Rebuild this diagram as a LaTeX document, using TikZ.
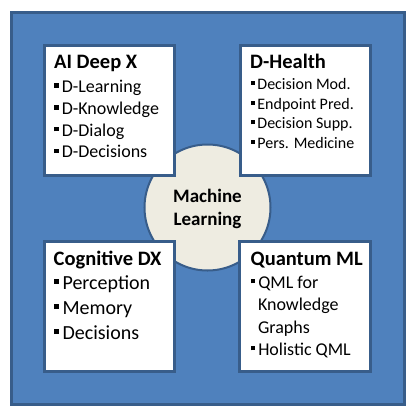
\documentclass[tikz,border=0pt]{standalone}
\usepackage{fontspec}
\setmainfont{Carlito}
\definecolor{bgblue}{HTML}{4F81BD}
\definecolor{edgeblue}{HTML}{385D8A}
\definecolor{mlfill}{HTML}{EEECE1}
\newcommand\blt{\makebox[0.42em][l]{\rule[0.27em]{0.25em}{0.25em}}}
\begin{document}
\begin{tikzpicture}[x=1bp,y=-1bp,
  panel/.style={draw=edgeblue,line width=3bp,fill=white,minimum width=130bp,minimum height=130bp,inner sep=0pt},
  ttl/.style={anchor=base west,inner sep=0pt,font=\fontsize{20.5bp}{24bp}\selectfont\bfseries},
  itm/.style={anchor=base west,inner sep=0pt,font=\fontsize{18bp}{22bp}\selectfont},
  itsmall/.style={anchor=base west,inner sep=0pt,font=\fontsize{16bp}{19bp}\selectfont},
  itbig/.style={anchor=base west,inner sep=0pt,font=\fontsize{20bp}{24bp}\selectfont},
  mltext/.style={anchor=base,inner sep=0pt,font=\fontsize{19bp}{22bp}\selectfont\bfseries}]
\useasboundingbox (0,0) rectangle (414,416);
\fill[white] (0,0) rectangle (414,416);
\draw[edgeblue,fill=bgblue,line width=3bp] (11.5,12.5) rectangle (404.3,404.5);
% central circle
\node[circle,draw=edgeblue,fill=mlfill,line width=2bp,minimum size=126bp,inner sep=0pt] (ml) at (207.5,207.5) {};
\node[mltext] (ml1) at (207.5,202.7) {Machine};
\node[mltext] (ml2) at (207.5,225) {Learning};
% panels
\node[panel] (b1) at (109.5,110.5) {};
\node[panel] (b2) at (305.5,110.5) {};
\node[panel] (b3) at (109.5,306) {};
\node[panel] (b4) at (305,306.5) {};
% AI Deep X
\node[ttl] (t1) at (54,68.5) {AI Deep X};
\node[itm] (a1) at (54,92.8) {\blt D-Learning};
\node[itm] (a2) at (54,114.5) {\blt D-Knowledge};
\node[itm] (a3) at (54,136.2) {\blt D-Dialog};
\node[itm] (a4) at (54,157.9) {\blt D-Decisions};
% D-Health
\node[ttl] (t2) at (250,68.3) {D-Health};
\node[itsmall] (h1) at (250.5,89.3) {\blt Decision Mod.};
\node[itsmall] (h2) at (250.5,109) {\blt Endpoint Pred.};
\node[itsmall] (h3) at (250.5,128.6) {\blt Decision Supp.};
\node[itsmall] (h4) at (250.5,148.2) {\blt Pers. Medicine};
% Cognitive DX
\node[ttl] (t3) at (53.5,265) {Cognitive DX};
\node[itbig] (c1) at (54,289.3) {\blt Perception};
\node[itbig] (c2) at (54,314.5) {\blt Memory};
\node[itbig] (c3) at (54,339.5) {\blt Decisions};
% Quantum ML
\node[ttl] (t4) at (250.5,265) {Quantum ML};
\node[itm] (q1) at (250.5,288.3) {\blt QML for};
\node[itm] (q2) at (257.8,310.6) {Knowledge};
\node[itm] (q3) at (257.8,333) {Graphs};
\node[itm] (q4) at (250.5,355.3) {\blt Holistic QML};
\end{tikzpicture}
\end{document}
